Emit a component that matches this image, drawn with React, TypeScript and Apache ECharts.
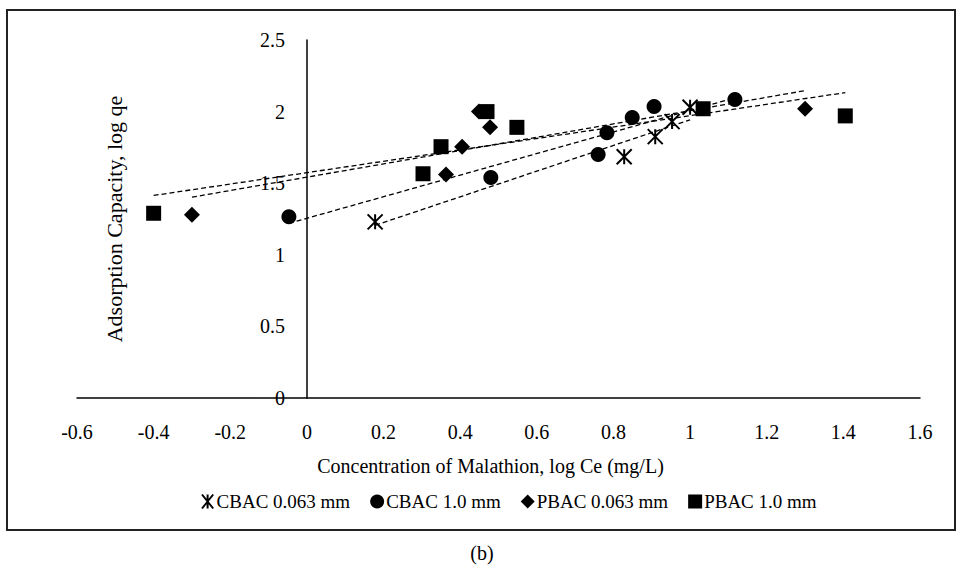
import React, { useEffect, useRef } from "react";
import * as echarts from "echarts";

// ---- Data ----
const seriesNames = ["CBAC 0.063 mm", "CBAC 1.0 mm", "PBAC 0.063 mm", "PBAC 1.0 mm"];

const cbac063X = [0.178, 0.828, 0.909, 0.953, 1.0];
const cbac063Y = [1.23, 1.685, 1.825, 1.93, 2.03];

const cbac10X = [-0.047, 0.48, 0.76, 0.783, 0.849, 0.906, 1.117];
const cbac10Y = [1.266, 1.54, 1.7, 1.853, 1.958, 2.035, 2.085];

const pbac063X = [-0.3, 0.363, 0.405, 0.449, 0.478, 1.3];
const pbac063Y = [1.28, 1.56, 1.755, 2.0, 1.89, 2.02];

const pbac10X = [-0.4, 0.303, 0.35, 0.47, 0.548, 1.034, 1.405];
const pbac10Y = [1.29, 1.566, 1.755, 2.0, 1.89, 2.02, 1.97];

const xTicks = { min: -0.6, max: 1.6, interval: 0.2 };
const yTicks = { min: 0, max: 2.5, interval: 0.5 };

const xTitle = "Concentration of Malathion, log Ce (mg/L)";
const yTitle = "Adsorption Capacity, log qe";
const caption = "(b)";

// ---- helpers ----
const zip = (xs: number[], ys: number[]) => xs.map((x, i) => [x, ys[i]]);

// least-squares linear trendline spanning the data's x range
const trend = (xs: number[], ys: number[]) => {
  const n = xs.length;
  const mx = xs.reduce((a, b) => a + b, 0) / n;
  const my = ys.reduce((a, b) => a + b, 0) / n;
  let sxy = 0;
  let sxx = 0;
  for (let i = 0; i < n; i++) {
    sxy += (xs[i] - mx) * (ys[i] - my);
    sxx += (xs[i] - mx) * (xs[i] - mx);
  }
  const b = sxy / sxx;
  const a = my - b * mx;
  const x0 = Math.min(...xs);
  const x1 = Math.max(...xs);
  return [
    [x0, a + b * x0],
    [x1, a + b * x1],
  ];
};

const FONT = "'Liberation Serif', 'Times New Roman', Times, serif";
const FS = 20;
const STAR = "path://M-8,-10L8,10M8,-10L-8,10M0,-10L0,10";

export default function App() {
  const ref = useRef<HTMLDivElement>(null);

  useEffect(() => {
    document.body.style.margin = "0";
    if (!ref.current) return;
    const chart = echarts.init(ref.current, undefined, { renderer: "svg" });

    const sets = [
      { x: cbac063X, y: cbac063Y, symbol: STAR, size: 15, star: true },
      { x: cbac10X, y: cbac10Y, symbol: "circle", size: 15, star: false },
      { x: pbac063X, y: pbac063Y, symbol: "diamond", size: 16, star: false },
      { x: pbac10X, y: pbac10Y, symbol: "rect", size: 15, star: false },
    ];

    const series: any[] = [];
    sets.forEach((s, i) => {
      series.push({
        type: "line",
        name: "trend" + i,
        data: trend(s.x, s.y),
        showSymbol: false,
        symbol: "none",
        silent: true,
        z: 3,
        lineStyle: { color: "#000", width: 1.3, type: [5, 3], opacity: 1 },
      });
    });
    sets.forEach((s, i) => {
      series.push({
        type: "scatter",
        name: seriesNames[i],
        data: zip(s.x, s.y),
        symbol: s.symbol,
        symbolSize: s.size,
        z: 2,
        itemStyle: s.star
          ? { color: "#000", borderColor: "#000", borderWidth: 2, opacity: 1 }
          : { color: "#000", opacity: 1 },
      });
    });

    chart.setOption({
      animation: false,
      backgroundColor: "#fff",
      textStyle: { fontFamily: FONT, color: "#000" },
      grid: { left: 77, right: 41, top: 40, bottom: 170, containLabel: false, outerBoundsMode: "none" },
      xAxis: {
        type: "value",
        min: xTicks.min,
        max: xTicks.max,
        interval: xTicks.interval,
        splitLine: { show: false },
        axisTick: { show: false },
        axisLine: { onZero: true, lineStyle: { color: "#000", width: 1.5 } },
        axisLabel: { color: "#000", fontSize: FS, fontFamily: FONT, margin: 24 },
        name: xTitle,
        nameLocation: "middle",
        nameGap: 58,
        nameTextStyle: { color: "#000", fontSize: FS, fontFamily: FONT, padding: [0, 16, 0, 0] },
      },
      yAxis: {
        type: "value",
        min: yTicks.min,
        max: yTicks.max,
        interval: yTicks.interval,
        offset: -230,
        splitLine: { show: false },
        axisTick: { show: false },
        axisLine: { onZero: false, lineStyle: { color: "#000", width: 1.5 } },
        axisLabel: { color: "#000", fontSize: FS, fontFamily: FONT, margin: 22 },
      },
      legend: {
        data: seriesNames,
        left: 196,
        top: 487,
        itemGap: 20,
        itemWidth: 14,
        itemHeight: 14,
        textStyle: { color: "#000", fontSize: 19, fontFamily: FONT, padding: [0, 0, 0, -3] },
      },
      graphic: [
        {
          type: "rect",
          shape: { x: 7, y: 10, width: 948, height: 520 },
          style: { fill: "none", stroke: "#222", lineWidth: 2 },
          silent: true,
        },
        {
          type: "text",
          x: 114,
          y: 219,
          rotation: Math.PI / 2,
          style: {
            text: yTitle,
            fill: "#000",
            fontSize: 22,
            fontFamily: FONT,
            align: "center",
            verticalAlign: "middle",
          },
        },
        {
          type: "text",
          x: 482,
          y: 553,
          style: {
            text: caption,
            fill: "#000",
            fontSize: FS,
            fontFamily: FONT,
            align: "center",
            verticalAlign: "middle",
          },
        },
      ],
      series,
    });

    return () => chart.dispose();
  }, []);

  return <div ref={ref} style={{ width: 961, height: 568 }} />;
}
